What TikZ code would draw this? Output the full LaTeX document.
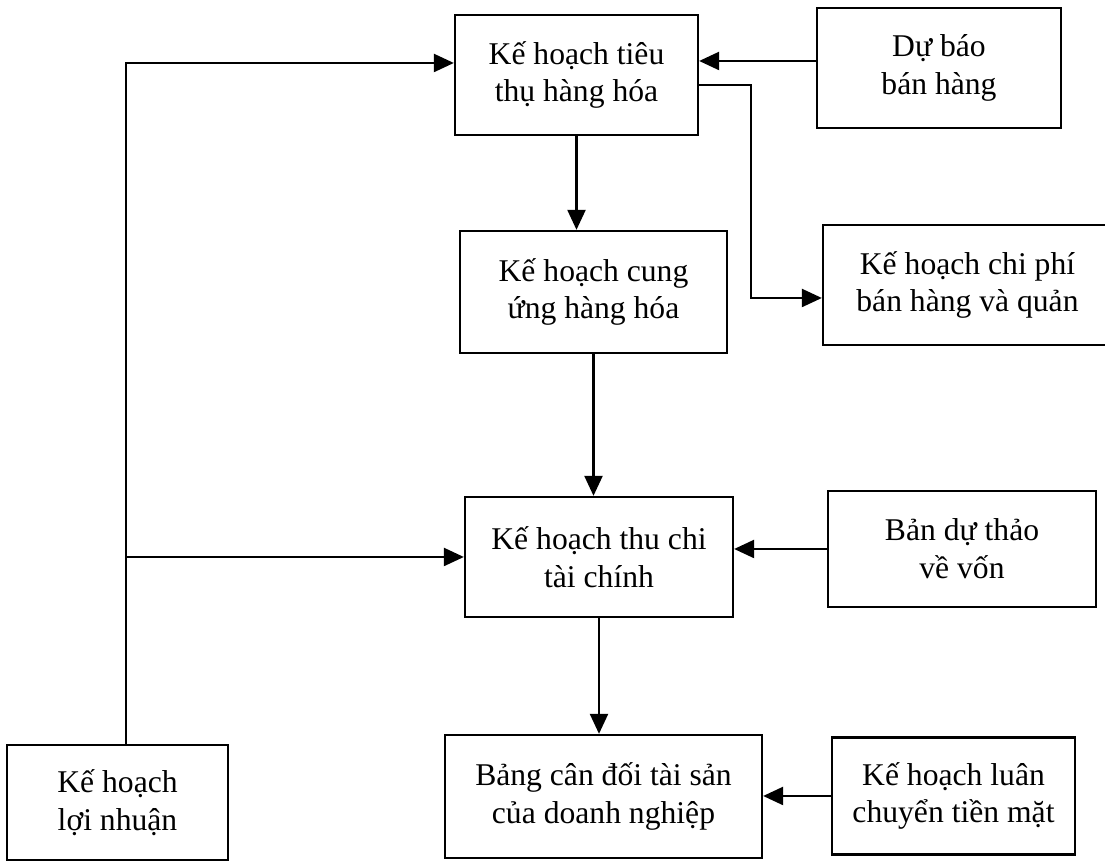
\documentclass[tikz,border=0pt]{standalone}
\usepackage{fontspec}
\setmainfont{Liberation Serif}
\usetikzlibrary{arrows.meta}

\begin{document}
\begin{tikzpicture}[
		scale=1,
		box/.style={rectangle, draw, line width=1.3pt, align=center, inner sep=0pt,
			font=\fontsize{18}{21.5}\selectfont},
		arr/.style={line width=1.3pt, -{Triangle[length=0.4cm, width=0.36cm]}}
	]
  \clip (0cm, 0cm) rectangle (22.1cm, 17.3cm);
  \node (T) [box, minimum width=4.86cm, minimum height=2.4cm] at (11.53cm, 15.8cm) {Kế hoạch tiêu\\thụ hàng hóa};
  \node (D) [box, minimum width=4.88cm, minimum height=2.4cm] at (18.78cm, 15.94cm) {Dự báo\\bán hàng};
  \node (C) [box, minimum width=5.34cm, minimum height=2.44cm] at (11.87cm, 11.46cm) {Kế hoạch cung\\ứng hàng hóa};
  \node (P) [box, minimum width=5.78cm, minimum height=2.4cm] at (19.35cm, 11.6cm) {Kế hoạch chi phí\\bán hàng và quản};
  \node (F) [box, minimum width=5.36cm, minimum height=2.4cm] at (11.98cm, 6.16cm) {Kế hoạch thu chi\\tài chính};
  \node (V) [box, minimum width=5.36cm, minimum height=2.32cm] at (19.24cm, 6.32cm) {Bản dự thảo\\về vốn};
  \node (B) [box, minimum width=6.34cm, minimum height=2.46cm] at (12.07cm, 1.37cm) {Bảng cân đối tài sản\\của doanh nghiệp};
  \node (L) [box, minimum width=4.86cm, minimum height=2.34cm] at (19.07cm, 1.38cm) {Kế hoạch luân\\chuyển tiền mặt};
  \node (N) [box, minimum width=4.42cm, minimum height=2.3cm] at (2.35cm, 1.25cm) {Kế hoạch\\lợi nhuận};
  \draw[arr] ([yshift=0.14cm]D.west) -- ([yshift=0.14cm]D.west -| T.east);
  \draw[arr] (T.south) -- (T.south |- C.north);
  \draw[arr] ([yshift=-0.2cm]T.east) -- ++(1.04cm, 0cm) |- ([yshift=-0.26cm]P.west);
  \draw[arr] (C.south) -- (C.south |- F.north);
  \draw[arr] (V.west) -- (V.west -| F.east);
  \draw[arr] (F.south) -- (F.south |- B.north);
  \draw[arr] (L.west) -- (L.west -| B.east);
  \draw[arr] ([xshift=0.17cm]N.north) |- ([yshift=0.24cm]T.west);
  \draw[arr] ([xshift=0.17cm]N.north |- F.west) -- (F.west);
\end{tikzpicture}
\end{document}
